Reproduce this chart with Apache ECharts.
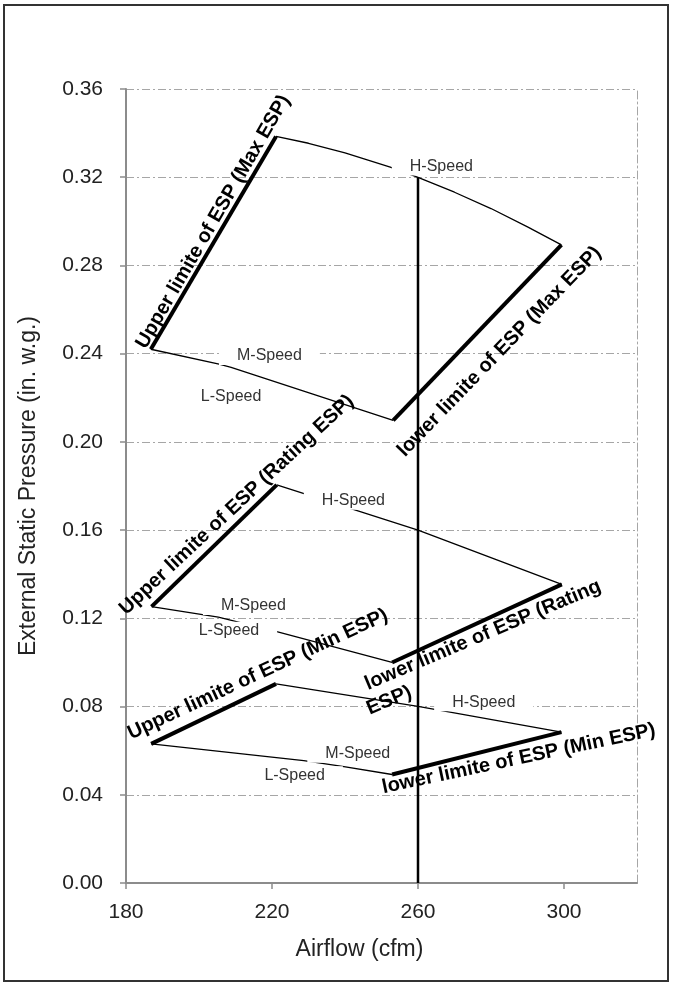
<!DOCTYPE html>
<html>
<head>
<meta charset="utf-8">
<script src="https://cdn.jsdelivr.net/npm/echarts@6/dist/echarts.min.js"></script>
<style>
  html, body { margin: 0; padding: 0; background: #fff; }
  #chart { width: 673px; height: 983px; }
</style>
</head>
<body>
<div id="chart"></div>
<script>
// Axis ticks
const xTicks = [180, 220, 260, 300];
const yTicks = [0, 0.04, 0.08, 0.12, 0.16, 0.20, 0.24, 0.28, 0.32, 0.36];

// Max ESP envelope: [airflow cfm, ESP in. w.g.]
const maxUpperLimit = [[186.8, 0.242], [221.1, 0.3385]];
const maxHighSpeed  = [[221.1, 0.3385], [230, 0.3354], [240, 0.3310], [252.4, 0.3246], [260, 0.3199],
                       [270, 0.3132], [280, 0.3058], [290, 0.2975], [299.3, 0.2893]];
const maxLowSpeed   = [[186.8, 0.242], [205.5, 0.2353], [208.8, 0.2338], [253.2, 0.2098]];
const maxLowerLimit = [[253.2, 0.2098], [299.3, 0.2893]];

// Rating ESP envelope
const ratUpperLimit = [[187.0, 0.1253], [221.3, 0.1805]];
const ratHighSpeed  = [[221.3, 0.1805], [260, 0.160], [299.4, 0.1354]];
const ratLowSpeed   = [[187.0, 0.1253], [205.3, 0.1205], [221.3, 0.114], [252.9, 0.100]];
const ratLowerLimit = [[252.9, 0.100], [299.4, 0.1354]];

// Min ESP envelope
const minUpperLimit = [[186.9, 0.0631], [221.1, 0.0903]];
const minHighSpeed  = [[221.1, 0.0903], [260, 0.0801], [299.3, 0.0684]];
const minLowSpeed   = [[186.9, 0.0631], [228.7, 0.0555], [239.7, 0.0528], [252.9, 0.0492]];
const minLowerLimit = [[252.9, 0.0492], [299.3, 0.0684]];

// Rated airflow line
const ratedAirflow = [[260, 0], [260, 0.32]];

// Curve names, anchored in data space
const speedNotes = [
  ['H-Speed', 266.4, 0.3249], ['M-Speed', 219.3, 0.2389], ['L-Speed', 208.8, 0.2207],
  ['H-Speed', 242.3, 0.1733], ['M-Speed', 214.9, 0.1256], ['L-Speed', 208.2, 0.1144],
  ['H-Speed', 278.0, 0.0820], ['M-Speed', 243.5, 0.0586], ['L-Speed', 226.2, 0.0488]
];
// Limit names: text, x, y, angle (deg)
const limitNotes = [
  ['Upper limite of ESP (Max ESP)', 203.9, 0.2998, 60],
  ['lower limite of ESP (Max ESP)', 282.3, 0.2409, 46],
  ['Upper limite of ESP (Rating ESP)', 210.3, 0.1714, 43],
  ['lower limite of ESP (Rating', 277.8, 0.1124, 23],
  ['ESP)', 252.1, 0.0827, 23],
  ['Upper limite of ESP (Min ESP)', 216.1, 0.0946, 25],
  ['lower limite of ESP (Min ESP)', 287.6, 0.0563, 12]
];

const FONT = '"Liberation Sans", Arial, sans-serif';
const gridDash = [8, 3, 2, 3];

function curve(data, width) {
  return {
    type: 'line', data: data, showSymbol: false, symbol: 'none',
    lineStyle: { color: '#000', width: width }, z: 3
  };
}

const chart = echarts.init(document.getElementById('chart'), null, { renderer: 'canvas' });
chart.setOption({
  animation: false,
  backgroundColor: '#fff',
  grid: { left: 126, right: 36, top: 89, bottom: 100 },
  xAxis: {
    type: 'value', min: 180, max: 320, interval: 40,
    name: 'Airflow (cfm)', nameLocation: 'middle', nameGap: 55,
    nameTextStyle: { fontFamily: FONT, fontSize: 23, color: '#222', padding: [0, 44, 0, 0] },
    axisLine: { show: true, lineStyle: { color: '#8c8c8c', width: 2 } },
    axisTick: { show: true, length: 6, inside: false, customValues: xTicks, lineStyle: { color: '#8c8c8c', width: 1.5 } },
    axisLabel: { customValues: xTicks, margin: 19, fontFamily: FONT, fontSize: 21, color: '#222' },
    splitLine: { show: false }
  },
  yAxis: [{
    type: 'value', min: 0, max: 0.36, interval: 0.04,
    name: 'External Static Pressure (in. w.g.)', nameLocation: 'middle', nameGap: 86, nameRotate: 90,
    nameTextStyle: { fontFamily: FONT, fontSize: 23, color: '#222' },
    axisLine: { show: true, lineStyle: { color: '#8c8c8c', width: 2 } },
    axisTick: { show: true, length: 6, inside: false, lineStyle: { color: '#8c8c8c', width: 1.5 } },
    axisLabel: { margin: 23, fontFamily: FONT, fontSize: 21, color: '#222',
      formatter: function (v) { return v.toFixed(2); } },
    splitLine: { show: true, lineStyle: { color: '#a6a6a6', width: 1, type: gridDash } }
  }, {
    type: 'value', min: 0, max: 0.36, interval: 0.04, position: 'right',
    axisLine: { show: true, lineStyle: { color: '#a6a6a6', width: 1, type: gridDash } },
    axisTick: { show: false }, axisLabel: { show: false }, splitLine: { show: false }
  }],
  series: [
    curve(maxUpperLimit, 4), curve(maxHighSpeed, 1.3), curve(maxLowSpeed, 1.3), curve(maxLowerLimit, 4),
    curve(ratUpperLimit, 4), curve(ratHighSpeed, 1.3), curve(ratLowSpeed, 1.3), curve(ratLowerLimit, 4),
    curve(minUpperLimit, 4), curve(minHighSpeed, 1.3), curve(minLowSpeed, 1.3), curve(minLowerLimit, 4),
    curve(ratedAirflow, 2.5)
  ]
});

const graphics = [{
  type: 'rect', shape: { x: 4, y: 5, width: 664, height: 976 },
  style: { fill: null, stroke: '#333', lineWidth: 2 }, z: 200, silent: true
}];
speedNotes.forEach(function (n) {
  const p = chart.convertToPixel({ gridIndex: 0 }, [n[1], n[2]]);
  graphics.push({
    type: 'text', x: p[0], y: p[1], z: 100,
    style: { text: n[0], font: '16px ' + FONT, fill: '#333', align: 'center', verticalAlign: 'middle',
      backgroundColor: '#fff', padding: [1, 18] }
  });
});
limitNotes.forEach(function (n) {
  const p = chart.convertToPixel({ gridIndex: 0 }, [n[1], n[2]]);
  graphics.push({
    type: 'text', x: p[0], y: p[1], z: 110, rotation: n[3] * Math.PI / 180,
    style: { text: n[0], font: 'bold 20px ' + FONT, fill: '#000', align: 'center', verticalAlign: 'middle' }
  });
});
chart.setOption({ graphic: graphics });
</script>
</body>
</html>
